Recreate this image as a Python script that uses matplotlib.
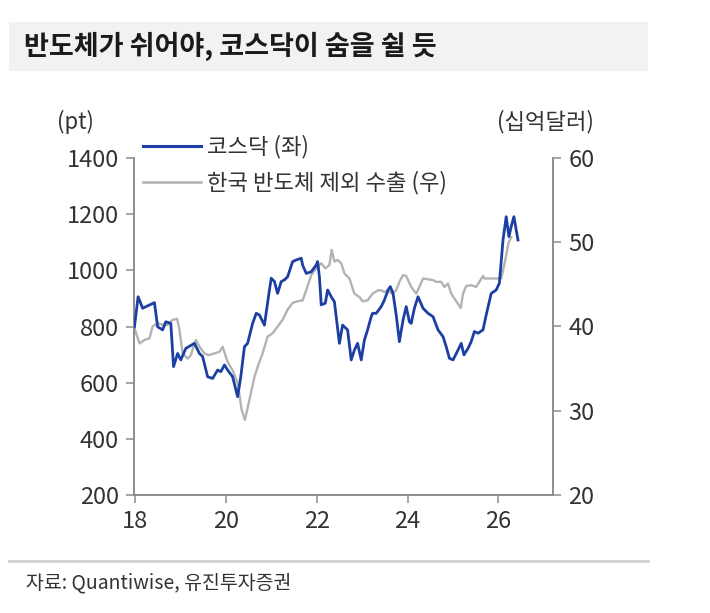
import matplotlib.pyplot as plt
from matplotlib.patches import Rectangle
from matplotlib.lines import Line2D

plt.rcParams['font.family'] = ['Noto Sans CJK KR', 'DejaVu Sans']

# 코스닥 (pt)
kosdaq_x = [17.99, 18.07, 18.17, 18.43, 18.50, 18.61, 18.68, 18.79, 18.85, 18.94,
            19.01, 19.12, 19.31, 19.42, 19.49, 19.60, 19.71, 19.82, 19.89, 19.97,
            20.04, 20.15, 20.26, 20.33, 20.41, 20.48, 20.59, 20.67, 20.74, 20.85,
            20.96, 21.00, 21.07, 21.14, 21.22, 21.29, 21.36, 21.47, 21.55, 21.66,
            21.69, 21.77, 21.88, 21.99, 22.02, 22.06, 22.10, 22.19, 22.24, 22.32,
            22.39, 22.50, 22.57, 22.68, 22.76, 22.83, 22.90, 22.98, 23.05, 23.12,
            23.20, 23.23, 23.31, 23.42, 23.49, 23.57, 23.62, 23.68, 23.75, 23.82,
            23.90, 23.97, 24.04, 24.08, 24.15, 24.23, 24.34, 24.45, 24.56, 24.67,
            24.78, 24.85, 24.92, 25.00, 25.11, 25.18, 25.24, 25.33, 25.40, 25.47,
            25.55, 25.66, 25.73, 25.84, 25.95, 26.02, 26.10, 26.17, 26.23, 26.28,
            26.34, 26.39, 26.43]
kosdaq_y = [799, 906, 865, 885, 799, 788, 817, 811, 657, 704,
            681, 722, 740, 704, 693, 621, 615, 645, 639, 663,
            645, 621, 550, 621, 728, 740, 811, 847, 841, 805,
            930, 972, 960, 918, 960, 966, 977, 1031, 1037, 1043,
            1019, 989, 995, 1019, 1031, 977, 877, 883, 930, 906,
            888, 740, 805, 788, 681, 716, 740, 681, 752, 788,
            835, 847, 847, 871, 894, 930, 942, 918, 841, 746,
            823, 871, 817, 811, 865, 906, 865, 847, 835, 788,
            764, 728, 687, 681, 716, 740, 699, 722, 746, 782,
            776, 788, 841, 918, 930, 954, 1108, 1191, 1120, 1156,
            1191, 1144, 1108]

# 한국 반도체 제외 수출 (십억달러)
export_x = [17.99, 18.10, 18.21, 18.32, 18.39, 18.50, 18.61, 18.72, 18.83, 18.93,
            18.98, 19.05, 19.16, 19.23, 19.34, 19.42, 19.53, 19.62, 19.75, 19.86,
            19.93, 20.04, 20.15, 20.26, 20.35, 20.42, 20.52, 20.63, 20.70, 20.81,
            20.92, 21.03, 21.14, 21.25, 21.36, 21.47, 21.58, 21.69, 21.77, 21.88,
            21.99, 22.10, 22.19, 22.28, 22.33, 22.39, 22.46, 22.54, 22.61, 22.72,
            22.83, 22.94, 23.01, 23.12, 23.23, 23.35, 23.42, 23.49, 23.57, 23.65,
            23.75, 23.82, 23.90, 23.97, 24.08, 24.19, 24.26, 24.34, 24.45, 24.56,
            24.63, 24.74, 24.81, 24.89, 24.96, 25.07, 25.17, 25.22, 25.29, 25.40,
            25.51, 25.58, 25.66, 25.69, 25.80, 25.91, 26.06, 26.14, 26.22, 26.28]
export_y = [39.8, 38.0, 38.4, 38.6, 40.0, 40.4, 40.2, 40.2, 40.8, 40.9,
            39.6, 36.8, 36.2, 36.6, 38.4, 37.6, 36.8, 36.6, 36.8, 37.0,
            37.6, 35.8, 34.8, 33.3, 30.1, 28.9, 31.3, 34.0, 35.2, 36.8,
            38.8, 39.2, 40.0, 40.8, 42.0, 42.8, 43.0, 43.1, 44.3, 46.1,
            46.9, 47.5, 46.9, 47.3, 49.1, 47.7, 47.9, 47.5, 46.3, 45.7,
            43.9, 43.5, 43.0, 43.1, 43.9, 44.3, 44.3, 44.1, 44.3, 43.9,
            44.3, 45.3, 46.1, 46.0, 44.7, 43.9, 44.7, 45.7, 45.6, 45.5,
            45.3, 45.3, 44.7, 45.1, 43.9, 43.0, 42.2, 43.9, 44.8, 44.9,
            44.7, 45.3, 46.0, 45.7, 45.7, 45.7, 45.7, 47.6, 49.9, 50.6]

x_ticks = [18, 20, 22, 24, 26]
left_ticks = [200, 400, 600, 800, 1000, 1200, 1400]
right_ticks = [20, 30, 40, 50, 60]

blue = '#1c3fa3'
grey = '#b3b3b3'
axis_col = '#8c8c8c'
text_col = '#333333'

fig = plt.figure(figsize=(7.1, 6.13), dpi=100)
ax = fig.add_axes([134 / 710, 118 / 613, 419 / 710, 337 / 613])
ax2 = ax.twinx()

ax.plot(kosdaq_x, kosdaq_y, color=blue, lw=2.0, zorder=3)
ax2.plot(export_x, export_y, color=grey, lw=1.7, zorder=2)
ax.set_zorder(ax2.get_zorder() + 1)
ax.patch.set_visible(False)

ax.set_xlim(17.98, 27.2)
ax.set_ylim(200, 1400)
ax2.set_ylim(20, 60)
ax.set_xticks(x_ticks)
ax.set_xticklabels([str(t) for t in x_ticks])
ax.set_yticks(left_ticks)
ax2.set_yticks(right_ticks)

for a in (ax, ax2):
    for s in a.spines.values():
        s.set_color(axis_col)
        s.set_linewidth(1.2)
    a.spines['top'].set_visible(False)
    a.tick_params(colors=axis_col, labelcolor=text_col, labelsize=17,
                  length=6, width=1.1, direction='out', pad=5)

# title bar
fig.patches.append(Rectangle((9 / 710, 542 / 613), 639 / 710, 49 / 613,
                             transform=fig.transFigure, facecolor='#f2f2f2',
                             edgecolor='none', zorder=0))
fig.text(24 / 710, 567 / 613, '반도체가 쉬어야, 코스닥이 숨을 쉴 듯', fontsize=19.5,
         fontweight='bold', color='#1a1a1a', va='center', ha='left')

fig.text(75 / 710, 491 / 613, '(pt)', fontsize=16, color=text_col, ha='center', va='center')
fig.text(545 / 710, 491 / 613, '(십억달러)', fontsize=16, color=text_col, ha='center', va='center')

handles = [Line2D([], [], color=blue, lw=2.2), Line2D([], [], color=grey, lw=1.8)]
fig.legend(handles, ['코스닥 (좌)', '한국 반도체 제외 수출 (우)'], loc='upper left',
           bbox_to_anchor=(143 / 710, 478 / 613), frameon=False, fontsize=16,
           handlelength=2.6, handletextpad=0.3, labelspacing=0.55,
           borderpad=0, borderaxespad=0, labelcolor=text_col)

# bottom rule and source
fig.add_artist(Line2D([9 / 710, 648 / 710], [52 / 613, 52 / 613],
                      transform=fig.transFigure, color='#d0d0d0', lw=2))
fig.text(26 / 710, 30 / 613, '자료: Quantiwise, 유진투자증권', fontsize=14,
         color=text_col, ha='left', va='center')

fig.savefig('out.png', dpi=100)
